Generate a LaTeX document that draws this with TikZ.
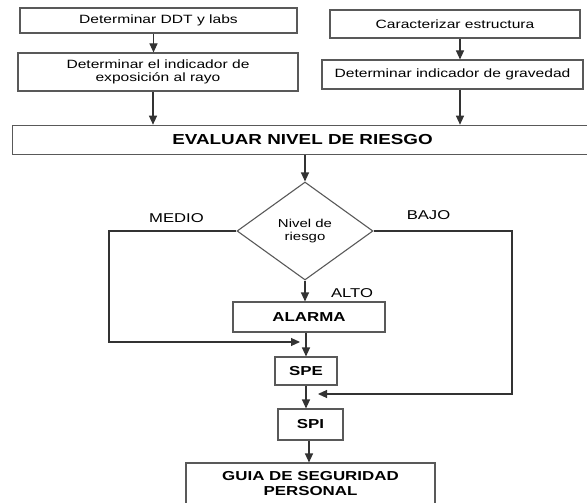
\documentclass[tikz,border=0pt]{standalone}
\usepackage{fontspec}
\setmainfont{Liberation Sans}[FakeStretch=1.3]
\usetikzlibrary{positioning, calc}
\usetikzlibrary{shapes.geometric, arrows.meta}

\tikzset{
  box/.style={draw=black!65, line width=1.1pt, inner sep=0pt, align=center, font=\fontsize{12}{13}\selectfont},
  hbox/.style={draw=black!65, line width=1.1pt, inner sep=0pt, align=center, font=\bfseries\fontsize{13}{15}\selectfont},
  decision/.style={diamond, draw=black!65, line width=1.1pt, inner sep=0pt, minimum width=136pt, minimum height=98pt, align=center, font=\fontsize{11.5}{12.3}\selectfont},
  lbl/.style={inner sep=0pt, font=\fontsize{12.8}{14}\selectfont},
  arr/.style={-{Triangle[length=9pt,width=8pt]}, draw=black!80, line width=1.1pt}
}

\begin{document}
\begin{tikzpicture}[x=1pt,y=-1pt]
                \useasboundingbox (0,0) rectangle (587,503);
                \clip (0,0) rectangle (587,503);
                \node[box, minimum width=277pt, minimum height=25pt] (ddt) at (158.5,20.5) {Determinar DDT y labs};
                \node[box, minimum width=280pt, minimum height=38pt] (expo) at (158,72) {Determinar el indicador de\\exposición al rayo};
                \node[box, minimum width=250pt, minimum height=28pt] (estr) at (455,24) {Caracterizar estructura};
                \node[box, minimum width=261pt, minimum height=29pt] (grav) at (452.5,74.5) {Determinar indicador de gravedad};
                \node[hbox, font=\bfseries\fontsize{14.5}{16}\selectfont, minimum width=580pt, minimum height=29.5pt, anchor=west] (eval) at (12,140) {EVALUAR NIVEL DE RIESGO};
                \node[decision] (nivel) at (305,231) {Nivel de\\riesgo};
                \node[hbox, minimum width=152pt, minimum height=30pt] (alarma) at (309,317) {ALARMA};
                \node[hbox, minimum width=62pt, minimum height=28pt] (spe) at (306,371) {SPE};
                \node[hbox, minimum width=65pt, minimum height=31pt] (spi) at (310.5,424.5) {SPI};
                \node[hbox, minimum width=249pt, minimum height=42pt] (guia) at (310.5,484) {GUIA DE SEGURIDAD\\PERSONAL};
                \node[lbl] (lmedio) at (176.5,218) {MEDIO};
                \node[lbl] (lbajo) at (428.5,215) {BAJO};
                \node[lbl] (lalto) at (352,293) {ALTO};
                \coordinate (izq) at ([xshift=-5pt]ddt.south);
                \coordinate (izq2) at ([xshift=-5pt]expo.south);
                \coordinate (der) at ([xshift=5pt]estr.south);
                \coordinate (der2) at ([xshift=7.5pt]grav.south);
                \coordinate (medio) at (109,231);
                \coordinate (medioin) at (300,342);
                \coordinate (bajo) at (512,231);
                \coordinate (bajoin) at (318,394);
                \draw[arr] (izq) -- (izq |- expo.north);
                \draw[arr] (izq2) -- (izq2 |- eval.north);
                \draw[arr] (der) -- (der |- grav.north);
                \draw[arr] (der2) -- (der2 |- eval.north);
                \draw[arr] (eval.south -| nivel.north) -- (nivel.north);
                \draw[arr] (nivel.south) -- (nivel.south |- alarma.north);
                \draw[arr] (alarma.south -| spe.north) -- (spe.north);
                \draw[arr] (spe.south) -- (spe.south |- spi.north);
                \draw[arr] ([xshift=-1.5pt]spi.south) -- ([xshift=-1.5pt]spi.south |- guia.north);
                \draw[arr] (nivel.west) -- (medio) |- (medioin);
                \draw[arr] (nivel.east) -- (bajo) |- (bajoin);
            \end{tikzpicture}
\end{document}
